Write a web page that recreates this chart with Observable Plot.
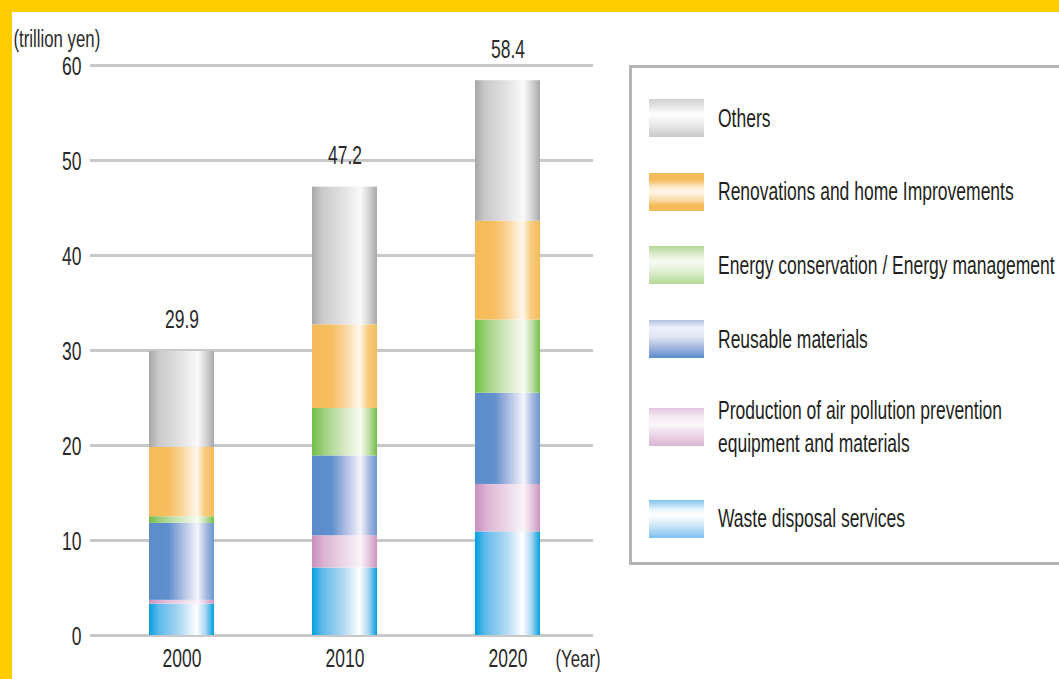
<!DOCTYPE html>
<html>
<head>
<meta charset="utf-8">
<script src="https://cdn.jsdelivr.net/npm/d3@7"></script>
<script src="https://cdn.jsdelivr.net/npm/@observablehq/plot@0.6"></script>
<style>
html, body { margin: 0; padding: 0; width: 1059px; height: 679px; overflow: hidden; background: #FFCC00; font-family: "Liberation Sans", Arial, sans-serif; }
#panel { position: absolute; left: 12px; top: 12px; width: 1047px; height: 667px; background: #fff; }
#chart { position: absolute; left: 0; top: 0; }
#legend { position: absolute; left: 629px; top: 65px; width: 470px; height: 500px; box-sizing: border-box; border: 3px solid #b4b4b4; background: #fff; padding-top: 31px; }
.item { display: flex; align-items: center; min-height: 38px; margin-bottom: 35.7px; padding-left: 17px; }
.item.two { margin-bottom: 40px; }
.sw { width: 55px; height: 38px; flex: none; }
.lab { margin-left: 14px; font-size: 25px; line-height: 33px; color: #231f20; white-space: nowrap; transform: scaleX(0.7); transform-origin: left center; }
</style>
</head>
<body>
<div id="panel"></div>
<div id="chart"></div>
<div id="legend"></div>
<script>
// ---- data ----
const years = ["2000", "2010", "2020"];
const series = [
  "Waste disposal services",
  "Production of air pollution prevention equipment and materials",
  "Reusable materials",
  "Energy conservation / Energy management",
  "Renovations and home Improvements",
  "Others"
];
const waste = [3.3, 7.1, 10.9];
const airPollution = [0.4, 3.4, 5.0];
const reusable = [8.1, 8.4, 9.6];
const energy = [0.7, 5.0, 7.7];
const renovations = [7.3, 8.8, 10.4];
const others = [10.1, 14.5, 14.8];
const totals = [29.9, 47.2, 58.4];
const yTicks = [0, 10, 20, 30, 40, 50, 60];
const legendLabels = [
  "Others",
  "Renovations and home Improvements",
  "Energy conservation / Energy management",
  "Reusable materials",
  "Production of air pollution prevention<br>equipment and materials",
  "Waste disposal services"
];

// ---- styles ----
const barGradients = [
  [[0, "#00A0E0"], [0.15, "#5DB8EA"], [0.5, "#B5DBF3"], [0.73, "#FFFFFF"], [0.87, "#A9D6F2"], [1, "#00A0E0"]],
  [[0, "#C98FBD"], [0.2, "#DDB6D4"], [0.5, "#ECD8E8"], [0.75, "#FBF4FA"], [0.88, "#E2C4DC"], [1, "#CC94C0"]],
  [[0, "#5B8DCB"], [0.3, "#5F8FCC"], [0.5, "#A9B9E1"], [0.75, "#F4F4FB"], [0.88, "#A7B9E0"], [1, "#6A97D0"]],
  [[0, "#6FBE44"], [0.2, "#A3D184"], [0.5, "#D5EAC4"], [0.75, "#F7FBF1"], [0.88, "#BCDDA3"], [1, "#72BF47"]],
  [[0, "#F5BB5A"], [0.3, "#F6BE60"], [0.5, "#FAD49A"], [0.73, "#FFF8EC"], [0.86, "#F8CC80"], [1, "#F5BB5A"]],
  [[0, "#A7A7A7"], [0.15, "#C9C9C9"], [0.5, "#E3E3E3"], [0.75, "#FAFAFA"], [0.88, "#D2D2D2"], [1, "#A9A9A9"]]
];
const swatchGradients = [
  "linear-gradient(to bottom, #cfcfcf 0%, #ececec 25%, #ffffff 40%, #e8e8e8 70%, #c9c9c9 100%)",
  "linear-gradient(to bottom, #f5bb5a 0%, #f5bb5a 18%, #fde7c4 35%, #fff6ea 50%, #fbd9a4 72%, #f5bb5a 85%, #f5bb5a 100%)",
  "linear-gradient(to bottom, #b3d795 0%, #dcecd0 22%, #f8fbf4 40%, #e2f0d6 65%, #b5d999 100%)",
  "linear-gradient(to bottom, #b2bfe2 0%, #eef0f9 20%, #dfe5f3 45%, #a8b9e0 70%, #5b8dcb 100%)",
  "linear-gradient(to bottom, #e3c6df 0%, #f6ecf4 25%, #fbf6fa 45%, #ecd7e8 70%, #d9b6d3 100%)",
  "linear-gradient(to bottom, #7fc3ee 0%, #eaf5fc 25%, #ffffff 40%, #d3e9f7 65%, #7bc1ee 100%)"
];
const TEXT_SCALE = 0.7;

// ---- table ----
const seriesValues = [waste, airPollution, reusable, energy, renovations, others];
const rows = [];
years.forEach((yr, i) => seriesValues.forEach((vals, k) => rows.push({year: yr, series: series[k], value: vals[i]})));
const totalRows = years.map((yr, i) => ({year: yr, total: totals[i]}));

const plot = Plot.plot({
  width: 620,
  height: 679,
  marginLeft: 90,
  marginRight: 27,
  marginTop: 65,
  marginBottom: 44,
  style: {background: "transparent", fontFamily: "'Liberation Sans', Arial, sans-serif", fontSize: "25px", color: "#2a2a2a"},
  x: {type: "band", domain: years, range: [49.8, 640], padding: 0.6, label: null},
  y: {domain: [0, 60], label: null},
  color: {domain: series, range: series.map((_, k) => `url(#bar-grad-${k})`)},
  marks: [
    Plot.ruleY(yTicks, {stroke: "#c8c8c8", strokeWidth: 3}),
    Plot.barY(rows, {x: "year", y: "value", fill: "series"}),
    Plot.axisY({ticks: yTicks, tickSize: 0, tickPadding: 9, fontSize: 25, dy: 1, label: null}),
    Plot.axisX({tickSize: 0, tickPadding: 14, fontSize: 25, label: null}),
    Plot.text(totalRows, {x: "year", y: "total", text: d => d.total.toFixed(1), dy: -31, fontSize: 25}),
    Plot.text(["(trillion yen)"], {text: d => d, frameAnchor: "top-left", dx: -77, dy: -36, textAnchor: "start", fontSize: 24}),
    Plot.text(["(Year)"], {text: d => d, frameAnchor: "bottom-right", dx: -38, dy: 31, textAnchor: "start", fontSize: 24})
  ]
});

// gradients
const ns = "http://www.w3.org/2000/svg";
const defs = document.createElementNS(ns, "defs");
barGradients.forEach((stops, k) => {
  const g = document.createElementNS(ns, "linearGradient");
  g.setAttribute("id", `bar-grad-${k}`);
  g.setAttribute("x1", "0"); g.setAttribute("x2", "1"); g.setAttribute("y1", "0"); g.setAttribute("y2", "0");
  stops.forEach(([o, c]) => {
    const s = document.createElementNS(ns, "stop");
    s.setAttribute("offset", o);
    s.setAttribute("stop-color", c);
    g.appendChild(s);
  });
  defs.appendChild(g);
});
plot.insertBefore(defs, plot.firstChild);

// condensed text look (horizontal squeeze about each text's anchor)
plot.querySelectorAll("text").forEach(t => {
  let tr = t.getAttribute("transform") || "";
  const x = t.getAttribute("x");
  if (x != null && isFinite(+x)) {
    tr += ` translate(${+x},0)`;
    t.removeAttribute("x");
  }
  t.setAttribute("transform", (tr + ` scale(${TEXT_SCALE},1)`).trim());
});

document.getElementById("chart").appendChild(plot);

// legend
const legend = document.getElementById("legend");
legendLabels.forEach((lab, k) => {
  const item = document.createElement("div");
  item.className = "item" + (lab.includes("<br>") ? " two" : "");
  const sw = document.createElement("div");
  sw.className = "sw";
  sw.style.background = swatchGradients[k];
  const tx = document.createElement("div");
  tx.className = "lab";
  tx.innerHTML = lab;
  item.appendChild(sw); item.appendChild(tx);
  legend.appendChild(item);
});
</script>
</body>
</html>
